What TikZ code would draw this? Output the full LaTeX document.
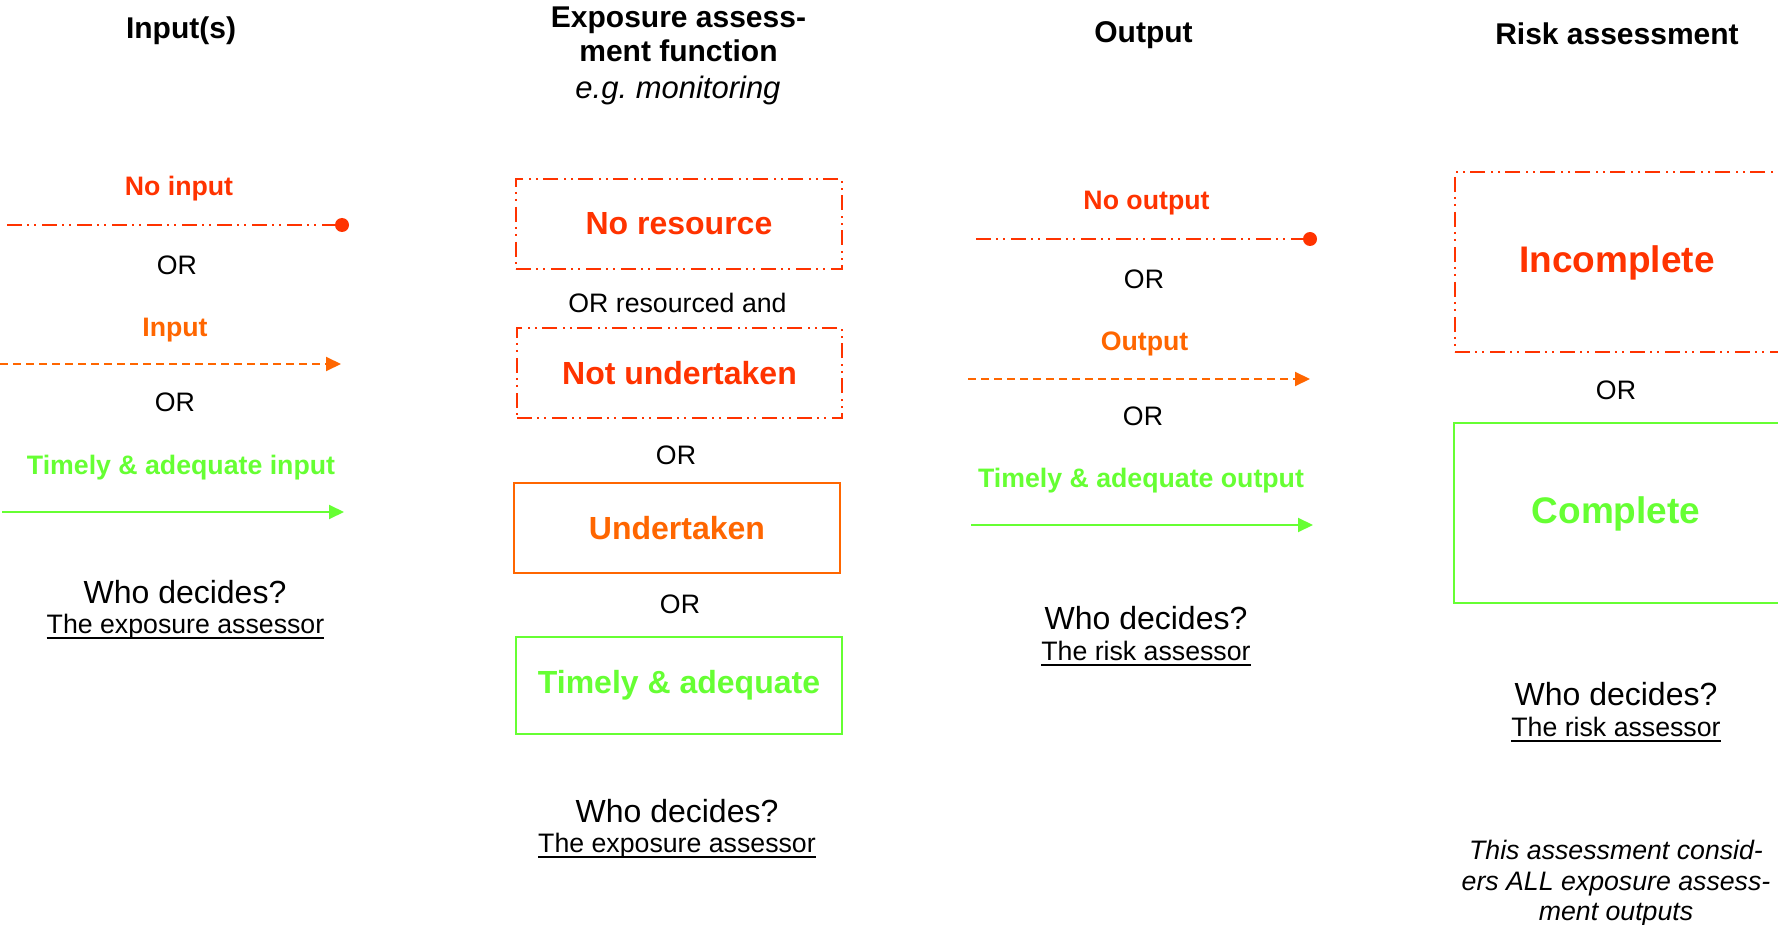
\documentclass[tikz,border=0pt]{standalone}
\usepackage{fontspec}
\setmainfont{Liberation Sans}
\usetikzlibrary{arrows.meta}
\definecolor{myred}{HTML}{FF3300}
\definecolor{myorange}{HTML}{FF6600}
\definecolor{mygreen}{HTML}{66FF33}
\newcommand\myfs[2]{\fontsize{#1}{#2}\selectfont}
\frenchspacing
\tikzset{
  every node/.style={inner sep=0pt},
  head/.style={font=\myfs{30}{34}\bfseries, anchor=base},
  headit/.style={font=\myfs{31}{34}\itshape, anchor=base},
  lbl/.style={font=\myfs{26.7}{31}\bfseries, anchor=base},
  plain/.style={font=\myfs{26.7}{31}, anchor=base},
  who/.style={font=\myfs{32}{36}, anchor=base},
  note/.style={font=\myfs{26.7}{31}\itshape, anchor=base},
  boxtxt/.style={font=\myfs{32}{36}\bfseries},
  bigtxt/.style={font=\myfs{37}{40}\bfseries, anchor=base},
  ddpat/.style={dash pattern=on 15pt off 5pt on 2pt off 5pt on 2pt off 6pt},
  ddline/.style={myred, line width=2pt, ddpat},
  dshline/.style={myorange, line width=2pt, dash pattern=on 8pt off 5pt, -{Triangle[length=15pt,width=14pt]}},
  okline/.style={mygreen, line width=2pt, -{Triangle[length=15pt,width=14pt]}},
  enddot/.style={circle, fill=myred, minimum size=14pt},
  redbox/.style={draw=myred, line width=2pt, ddpat, text=myred},
  orbox/.style={draw=myorange, line width=2pt, text=myorange},
  grbox/.style={draw=mygreen, line width=2pt, text=mygreen},
  uline/.style={line width=1.8pt, black},
}
\begin{document}
\begin{tikzpicture}[x=1pt,y=-1pt]
\useasboundingbox (0,0) rectangle (1778,925);
\fill[white] (0,0) rectangle (1778,925);
\clip (0,0) rectangle (1778,925);

% ---------- Column 1: Input(s)
\node[head] (h1) at (181,39) {Input(s)};
\node[lbl, text=myred] (noin) at (179,196) {No input};
\coordinate (a1s) at (7,225);
\node[enddot] (a1e) at (342,225) {};
\draw[ddline] (a1s) -- (a1e.center);
\node[plain] (or1a) at (177,275) {OR};
\node[lbl, text=myorange] (in) at (175,337) {Input};
\coordinate (a2s) at (0,364);
\coordinate (a2e) at (341,364);
\draw[dshline] (a2s) -- (a2e);
\node[plain] (or1b) at (175,411) {OR};
\node[lbl, text=mygreen] (tain) at (181,474) {Timely \& adequate input};
\coordinate (a3s) at (2,512);
\coordinate (a3e) at (344,512);
\draw[okline] (a3s) -- (a3e);
\node[who] (who1) at (185,603) {Who decides?};
\node[plain] (ea1) at (185.5,633) {The exposure assessor};
\draw[uline] ([yshift=-5pt]ea1.base west) -- ([yshift=-5pt]ea1.base east);

% ---------- Column 2: Exposure assessment function
\node[head] (h2a) at (678.5,28) {Exposure assess-};
\node[head] (h2b) at (678.5,62) {ment function};
\node[headit, font=\myfs{31}{34}\itshape\mdseries] (h2c) at (678,99) {e.g.\ monitoring};
\node[redbox, boxtxt, minimum width=326pt, minimum height=90pt] (nres) at (679,224) {No resource};
\node[plain] (orres) at (677.5,313) {OR resourced and};
\node[redbox, boxtxt, minimum width=325pt, minimum height=90pt] (nund) at (679.5,373) {Not undertaken};
\node[plain] (or2a) at (676,464) {OR};
\node[orbox, boxtxt, minimum width=326pt, minimum height=90pt] (und) at (677,528) {Undertaken};
\node[plain] (or2b) at (680,613) {OR};
\node[grbox, boxtxt, minimum width=326pt, minimum height=97pt] (ta) at (679,685.5) {Timely \& adequate};
\node[who] (who2) at (677,822) {Who decides?};
\node[plain] (ea2) at (677,852) {The exposure assessor};
\draw[uline] ([yshift=-5pt]ea2.base west) -- ([yshift=-5pt]ea2.base east);

% ---------- Column 3: Output
\node[head] (h3) at (1143.5,43) {Output};
\node[lbl, text=myred] (noout) at (1146.5,210) {No output};
\coordinate (b1s) at (976,239);
\node[enddot] (b1e) at (1310,239) {};
\draw[ddline] (b1s) -- (b1e.center);
\node[plain] (or3a) at (1144,289) {OR};
\node[lbl, text=myorange] (out) at (1144.5,351) {Output};
\coordinate (b2s) at (968,379);
\coordinate (b2e) at (1310,379);
\draw[dshline] (b2s) -- (b2e);
\node[plain] (or3b) at (1143,425) {OR};
\node[lbl, text=mygreen] (taout) at (1141,487) {Timely \& adequate output};
\coordinate (b3s) at (971,525);
\coordinate (b3e) at (1313,525);
\draw[okline] (b3s) -- (b3e);
\node[who] (who3) at (1146,629) {Who decides?};
\node[plain] (ra3) at (1146,660) {The risk assessor};
\draw[uline] ([yshift=-5pt]ra3.base west) -- ([yshift=-5pt]ra3.base east);

% ---------- Column 4: Risk assessment
\node[head] (h4) at (1617,45) {Risk assessment};
\node[redbox, minimum width=345pt, minimum height=180pt] (incbox) at (1627.5,262) {};
\node[bigtxt, text=myred] (inc) at (1617,273) {Incomplete};
\node[plain] (or4) at (1616,399) {OR};
\node[grbox, minimum width=346pt, minimum height=180pt] (compbox) at (1627,513) {};
\node[bigtxt, text=mygreen] (comp) at (1616,523) {Complete};
\node[who] (who4) at (1616,705) {Who decides?};
\node[plain] (ra4) at (1616,736) {The risk assessor};
\draw[uline] ([yshift=-5pt]ra4.base west) -- ([yshift=-5pt]ra4.base east);
\node[note] (n1) at (1616,859) {This assessment consid-};
\node[note] (n2) at (1616,890) {ers ALL exposure assess-};
\node[note] (n3) at (1616,920) {ment outputs};
\end{tikzpicture}
\end{document}
